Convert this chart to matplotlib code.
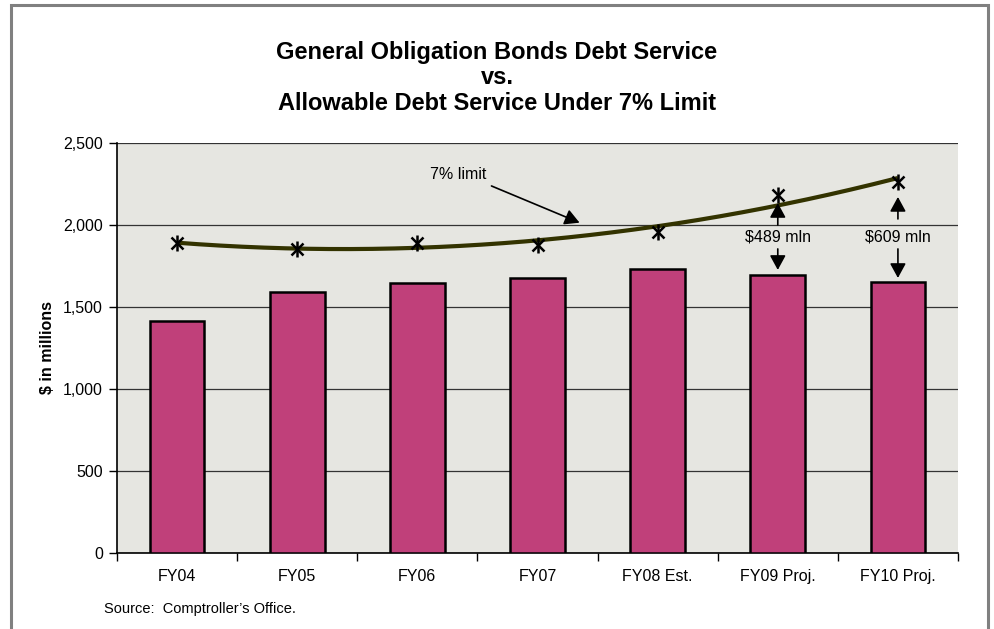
import matplotlib
matplotlib.use("Agg")
import matplotlib.pyplot as plt
from matplotlib.ticker import FuncFormatter, FixedLocator
from matplotlib.patches import Rectangle
import numpy as np

plt.rcParams['font.family'] = ['Liberation Sans', 'DejaVu Sans']

years = ['FY04', 'FY05', 'FY06', 'FY07', 'FY08 Est.', 'FY09 Proj.', 'FY10 Proj.']
debt_service = [1415, 1591, 1646, 1677, 1732, 1694, 1653]
limit_7pct = [1890, 1854, 1890, 1878, 1957, 2183, 2262]
yticks = [0, 500, 1000, 1500, 2000, 2500]

x = np.arange(len(years))

fig = plt.figure(figsize=(9.95, 6.29), dpi=100)
ax = fig.add_axes([117 / 995, 76 / 629, 841 / 995, 410 / 629])
ax.set_facecolor('#e6e6e1')

# figure frame (bottom edge falls outside the picture)
fig.patches.append(Rectangle((11 / 995, -0.01), 977 / 995, 1 - 5 / 629 + 0.01,
                             transform=fig.transFigure, fill=False,
                             edgecolor='#808080', linewidth=2.2))

ax.bar(x, debt_service, width=0.455, color='#c0407a', edgecolor='black',
       linewidth=1.8, zorder=3)

# polynomial trend of the 7% limit
coef = np.polyfit(x, limit_7pct, 2)
xs = np.linspace(x[0], x[-1], 200)
ax.plot(xs, np.polyval(coef, xs), color='#333300', linewidth=3, zorder=4,
        solid_capstyle='butt')
ax.plot(x, limit_7pct, linestyle='none', marker='x', markersize=9,
        markeredgewidth=1.8, color='black', zorder=5)
ax.plot(x, limit_7pct, linestyle='none', marker='|', markersize=11,
        markeredgewidth=1.8, color='black', zorder=5)

ax.set_xlim(-0.5, len(years) - 0.5)
ax.set_ylim(0, 2500)
ax.yaxis.set_major_locator(FixedLocator(yticks))
ax.yaxis.set_major_formatter(FuncFormatter(lambda v, p: f'{int(v):,}'))
ax.grid(axis='y', color='#333333', linewidth=0.9, zorder=1)
ax.set_axisbelow(True)

ax.set_xticks(np.arange(len(years) + 1) - 0.5)
ax.set_xticklabels([])
ax.set_xticks(x, minor=True)
ax.set_xticklabels(years, minor=True)
ax.tick_params(axis='x', which='minor', length=0, pad=11.5, labelsize=11.5)
ax.tick_params(axis='x', which='major', length=6, width=1, direction='out')
ax.tick_params(axis='y', length=6, width=1, direction='out', labelsize=11.5, pad=4)

for side in ['top', 'right']:
    ax.spines[side].set_visible(False)
ax.spines['left'].set_linewidth(1.2)
ax.spines['bottom'].set_linewidth(1.2)

ax.set_ylabel('$ in millions', fontsize=11.5, fontweight='bold', labelpad=6)

fig.text(0.4995, 1 - 52 / 629, 'General Obligation Bonds Debt Service',
         ha='center', va='center', fontsize=17, fontweight='bold')
fig.text(0.4995, 1 - 78 / 629, 'vs.', ha='center', va='center',
         fontsize=17, fontweight='bold')
fig.text(0.4995, 1 - 104 / 629, 'Allowable Debt Service Under 7% Limit',
         ha='center', va='center', fontsize=17, fontweight='bold')

fig.text(104 / 995, 1 - 609 / 629, "Source:  Comptroller\u2019s Office.",
         ha='left', va='center', fontsize=10.5)

# annotations
def arrow(tip, start):
    ax.annotate('', xy=tip, xytext=start,
                arrowprops=dict(arrowstyle='-|>,head_length=0.55,head_width=0.3',
                                color='black', lw=1.2, mutation_scale=16,
                                shrinkA=0, shrinkB=0), zorder=6)

ax.text(2.34, 2305, '7% limit', fontsize=11.5, ha='center', va='center')
arrow((3.35, 2014), (2.617, 2238))

gap_labels = ['$489 mln', '$609 mln']
for i, lab in zip([5, 6], gap_labels):
    ax.text(x[i], 1927, lab, ha='center', va='center', fontsize=11.5)
arrow((5, 2134), (5, 2000))
arrow((5, 1726), (5, 1854))
arrow((6, 2171), (6, 2037))
arrow((6, 1677), (6, 1854))

fig.savefig('out.png', dpi=100)
